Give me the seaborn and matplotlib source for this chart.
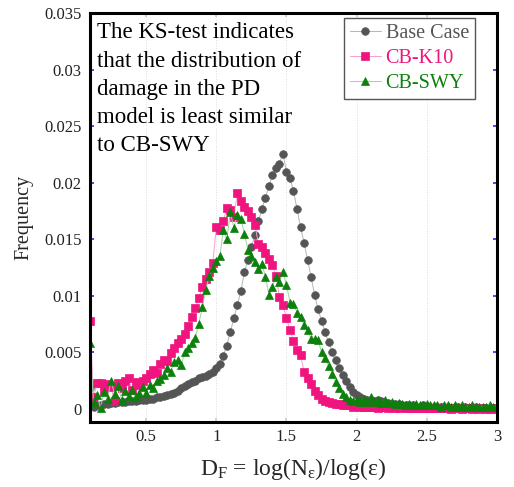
import numpy as np
import matplotlib
matplotlib.use("Agg")
import matplotlib.pyplot as plt
import seaborn as sns

# frequency of fractal dimension D_F, binned from 0.1 to 3.0
x_start, x_stop = 0.1, 3.0

base_case = [
    0.0018, 0.0002, 0.0003, 0.0003, 0.0004, 0.0004, 0.0005, 0.0005, 0.0006, 0.0006,
    0.0006, 0.0007, 0.0007, 0.0007, 0.0008, 0.0008, 0.0008, 0.0009, 0.0009, 0.0010,
    0.0010, 0.0011, 0.0012, 0.0013, 0.0014, 0.0016, 0.0018, 0.0020, 0.0022, 0.0024,
    0.0025, 0.0027, 0.0028, 0.0029, 0.0031, 0.0033, 0.0036, 0.0040, 0.0047, 0.0056,
    0.0068, 0.0080, 0.0092, 0.0104, 0.0121, 0.0132, 0.0143, 0.0154, 0.0166, 0.0177,
    0.0187, 0.0197, 0.0207, 0.0213, 0.0217, 0.0226, 0.0210, 0.0204, 0.0193, 0.0177,
    0.0161, 0.0147, 0.0132, 0.0117, 0.0101, 0.0088, 0.0078, 0.0068, 0.0059, 0.0050,
    0.0043, 0.0036, 0.0030, 0.0025, 0.0019, 0.0015, 0.0012, 0.0010, 0.0009, 0.0008,
    0.0008, 0.0007, 0.0008, 0.0007, 0.0005, 0.0005, 0.0004, 0.0004, 0.0004, 0.0003,
    0.0003, 0.0003, 0.0003, 0.0002, 0.0002, 0.0003, 0.0002, 0.0002, 0.0002, 0.0002,
    0.0002, 0.0002, 0.0002, 0.0001, 0.0002, 0.0002, 0.0001, 0.0002, 0.0001, 0.0001,
    0.0002, 0.0001, 0.0001, 0.0001, 0.0001, 0.0001, 0.0001,
]

cb_k10 = [
    0.0078, 0.0010, 0.0023, 0.0023, 0.0016, 0.0022, 0.0019, 0.0007, 0.0023, 0.0018,
    0.0025, 0.0027, 0.0017, 0.0024, 0.0021, 0.0025, 0.0027, 0.0031, 0.0034, 0.0032,
    0.0040, 0.0043, 0.0042, 0.0049, 0.0054, 0.0058, 0.0062, 0.0066, 0.0073, 0.0081,
    0.0089, 0.0098, 0.0108, 0.0115, 0.0121, 0.0129, 0.0161, 0.0158, 0.0166, 0.0178,
    0.0176, 0.0170, 0.0191, 0.0184, 0.0179, 0.0175, 0.0170, 0.0163, 0.0146, 0.0143,
    0.0138, 0.0133, 0.0127, 0.0118, 0.0099, 0.0092, 0.0080, 0.0070, 0.0060, 0.0052,
    0.0048, 0.0033, 0.0027, 0.0022, 0.0016, 0.0012, 0.0009, 0.0007, 0.0006, 0.0005,
    0.0004, 0.0004, 0.0003, 0.0003, 0.0003, 0.0002, 0.0003, 0.0002, 0.0002, 0.0002,
    0.0002, 0.0002, 0.0001, 0.0002, 0.0002, 0.0001, 0.0002, 0.0001, 0.0001, 0.0002,
    0.0001, 0.0001, 0.0001, 0.0001, 0.0001, 0.0001, 0.0001, 0.0001, 0.0001, 0.0001,
    0.0001, 0.0001, 0.0001, 0.0000, 0.0001, 0.0001, 0.0000, 0.0001, 0.0001, 0.0000,
    0.0001, 0.0000, 0.0001, 0.0000, 0.0000, 0.0001, 0.0000,
]

cb_swy = [
    0.0058, 0.0006, 0.0012, 0.0001, 0.0015, 0.0009, 0.0025, 0.0013, 0.0020, 0.0008,
    0.0016, 0.0011, 0.0017, 0.0010, 0.0014, 0.0019, 0.0014, 0.0021, 0.0018, 0.0025,
    0.0026, 0.0030, 0.0036, 0.0033, 0.0041, 0.0043, 0.0039, 0.0050, 0.0054, 0.0058,
    0.0063, 0.0075, 0.0090, 0.0105, 0.0118, 0.0125, 0.0131, 0.0135, 0.0158, 0.0150,
    0.0174, 0.0160, 0.0172, 0.0168, 0.0155, 0.0141, 0.0135, 0.0130, 0.0124, 0.0128,
    0.0117, 0.0101, 0.0108, 0.0117, 0.0112, 0.0121, 0.0110, 0.0094, 0.0093, 0.0085,
    0.0081, 0.0074, 0.0070, 0.0062, 0.0062, 0.0061, 0.0050, 0.0045, 0.0038, 0.0031,
    0.0024, 0.0018, 0.0013, 0.0010, 0.0008, 0.0007, 0.0008, 0.0006, 0.0009, 0.0006,
    0.0010, 0.0006, 0.0008, 0.0005, 0.0008, 0.0005, 0.0006, 0.0004, 0.0005, 0.0004,
    0.0003, 0.0004, 0.0003, 0.0004, 0.0003, 0.0003, 0.0004, 0.0003, 0.0003, 0.0003,
    0.0002, 0.0003, 0.0003, 0.0002, 0.0003, 0.0002, 0.0003, 0.0002, 0.0002, 0.0003,
    0.0002, 0.0002, 0.0002, 0.0002, 0.0003, 0.0002, 0.0002,
]

x_ticks = [0.5, 1, 1.5, 2, 2.5, 3]
y_ticks = [0, 0.005, 0.01, 0.015, 0.02, 0.025, 0.03, 0.035]

note = ("The KS-test indicates\nthat the distribution of\n"
        "damage in the PD\nmodel is least similar\nto CB-SWY")

sns.set_theme(style="white")
plt.rcParams["font.family"] = ["Liberation Serif", "DejaVu Serif"]
plt.rcParams["mathtext.fontset"] = "custom"
plt.rcParams["mathtext.rm"] = "Liberation Serif"
plt.rcParams["mathtext.it"] = "Liberation Serif:italic"

fig = plt.figure(figsize=(5.14, 4.87), dpi=100)
ax = fig.add_axes([0.1751, 0.1335, 0.7918, 0.8388])

series = [
    ("Base Case", base_case, "o", "#555555", "#b5b5b5", 5.5),
    ("CB-K10", cb_k10, "s", "#f0147f", "#f7a0c8", 6.0),
    ("CB-SWY", cb_swy, "^", "#0b800b", "#9fd39f", 5.5),
]
for name, vals, mk, col, lcol, ms in series:
    xs = np.linspace(x_start, x_stop, len(vals))
    sns.lineplot(x=xs, y=vals, ax=ax, color=lcol, lw=0.7, marker=mk,
                 markersize=ms, markerfacecolor=col, markeredgecolor=col,
                 markeredgewidth=0.5, label=name)

ax.set_xlim(0.1, 3.0)
ax.set_ylim(-0.00117, 0.035)
ax.set_xticks(x_ticks)
ax.set_xticklabels(["0.5", "1", "1.5", "2", "2.5", "3"])
ax.set_yticks(y_ticks)
ax.set_yticklabels(["0", "0.005", "0.01", "0.015", "0.02", "0.025", "0.03", "0.035"])
ax.tick_params(axis="both", labelsize=12, colors="#222222")
ax.tick_params(axis="y", direction="in", length=3, color="#3030ff",
               left=True, right=True, pad=6)
ax.tick_params(axis="x", direction="in", length=3, color="#cccccc",
               bottom=True, top=True, pad=5)
ax.grid(axis="x", color="#dddddd", lw=0.7, ls=":")
for sp in ax.spines.values():
    sp.set_color("black")
    sp.set_linewidth(2.2)

ax.set_ylabel("Frequency", fontsize=14.5, labelpad=8)
ax.set_xlabel(r"$\mathrm{D_F}$ = log($\mathrm{N_\varepsilon}$)/log(ε)",
              fontsize=17, labelpad=8)

ax.text(0.018, 0.978, note, transform=ax.transAxes, fontsize=16.5,
        va="top", ha="left", linespacing=1.45, color="black")

leg = ax.legend(loc="upper right", bbox_to_anchor=(0.946, 0.989),
                borderaxespad=0, fontsize=14.5, fancybox=False,
                edgecolor="#555555", framealpha=1, handlelength=1.5,
                handletextpad=0.25, labelspacing=0.3, borderpad=0.3)
leg.get_frame().set_linewidth(1.0)
for txt, (_, _, _, col, _, _) in zip(leg.get_texts(), series):
    txt.set_color(col)

fig.savefig("out.png", dpi=100)
